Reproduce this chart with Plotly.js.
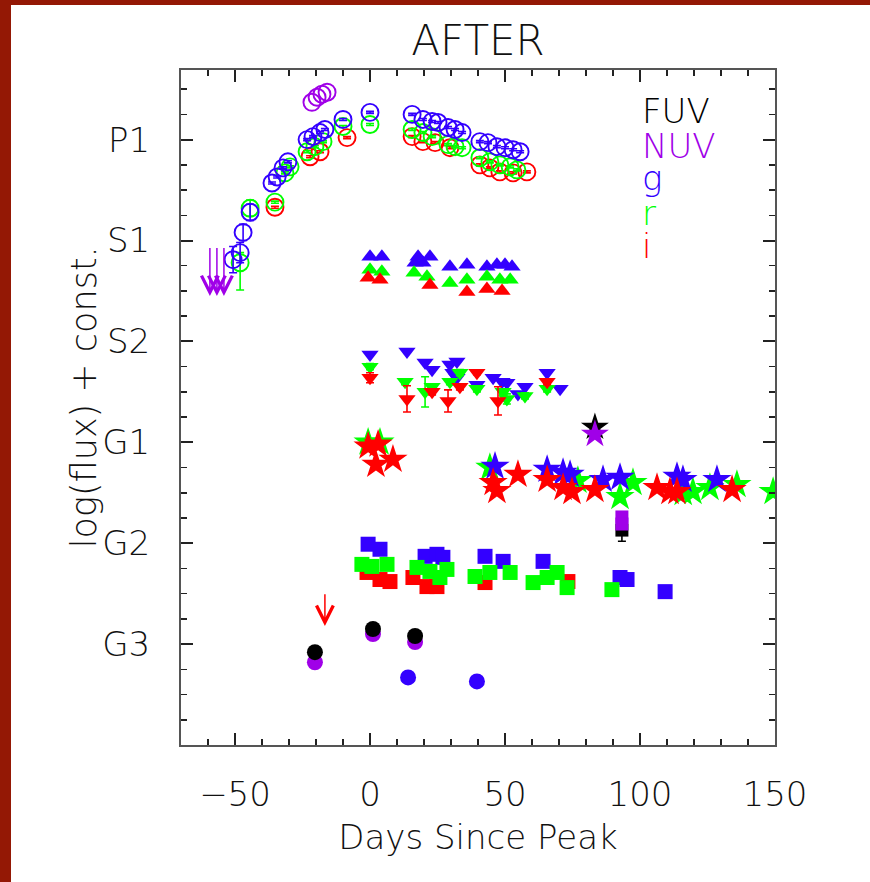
<!DOCTYPE html>
<html>
<head>
<meta charset="utf-8">
<script src="https://cdn.plot.ly/plotly-3.0.1.min.js"></script>
<style>
  html, body { margin:0; padding:0; width:870px; height:882px; overflow:hidden; background:#941805; }
  #chart { position:absolute; left:11px; top:5px; width:859px; height:877px; background:#fff; }
</style>
</head>
<body>
<div id="chart"></div>
<script>
// ---------------- data (days since peak, log flux + const.) ----------------
// tick labels for the offset groups
const groupVals = [1, 2, 3, 4, 5, 6];
const groupNames = ['G3', 'G2', 'G1', 'S2', 'S1', 'P1'];

// P1 (open circles)
const p1NuvDay = [-21.5, -19.6, -17.8, -15.9];
const p1NuvY   = [6.37, 6.42, 6.45, 6.47];
const p1gDay = [-50.7, -48.1, -47.0, -44.4, -36.3, -34.4, -32.2, -30.4, -23.3, -21.1, -18.5, -16.7, -10.0, 0.0, 15.6, 19.6, 23.0, 25.2, 28.9, 31.5, 34.1, 40.7, 43.7, 47.0, 50.0, 53.0, 55.6];
const p1gY   = [4.81, 4.88, 5.08, 5.28, 5.57, 5.63, 5.72, 5.78, 6.00, 6.03, 6.07, 6.10, 6.20, 6.27, 6.25, 6.20, 6.18, 6.17, 6.12, 6.10, 6.07, 5.98, 5.97, 5.93, 5.92, 5.90, 5.88];
const p1gErr = [0.13, 0.10, 0.08, 0.08, 0.01, 0.01, 0.01, 0.01, 0.01, 0.01, 0.01, 0.01, 0.01, 0.01, 0.01, 0.01, 0.01, 0.01, 0.01, 0.01, 0.01, 0.01, 0.01, 0.01, 0.01, 0.01, 0.01];
const p1rDay = [-48.1, -44.4, -35.2, -31.5, -29.6, -23.3, -20.4, -17.4, -10.0, 0.0, 15.6, 19.6, 23.0, 28.9, 31.5, 34.1, 40.7, 44.4, 48.1, 51.9, 54.4];
const p1rY   = [4.78, 5.32, 5.38, 5.67, 5.73, 5.88, 5.93, 5.98, 6.13, 6.15, 6.10, 6.07, 6.03, 5.95, 5.93, 5.92, 5.82, 5.78, 5.75, 5.73, 5.70];
const p1rErrUp = [0.10, 0.08, 0.01, 0.01, 0.01, 0.01, 0.01, 0.01, 0.01, 0.01, 0.01, 0.01, 0.01, 0.01, 0.01, 0.01, 0.01, 0.01, 0.01, 0.01, 0.01];
const p1rErrDn = [0.27, 0.08, 0.01, 0.01, 0.01, 0.01, 0.01, 0.01, 0.01, 0.01, 0.01, 0.01, 0.01, 0.01, 0.01, 0.01, 0.01, 0.01, 0.01, 0.01, 0.01];
const p1iDay = [-35.2, -22.2, -18.5, -8.5, 15.6, 19.6, 24.1, 29.6, 40.7, 44.4, 48.1, 53.0, 58.1];
const p1iY   = [5.33, 5.83, 5.88, 6.02, 6.03, 5.98, 5.97, 5.92, 5.75, 5.72, 5.68, 5.67, 5.68];

// P1 NUV upper limits (arrows)
const p1NuvLimDay = [-59.3, -56.7, -54.1];
const p1NuvLimTop = [4.94, 4.94, 4.94];
const p1NuvLimBot = [4.45, 4.45, 4.45];

// S1 (triangles up)
const s1gDay = [0.0, 4.4, 16.7, 17.8, 19.6, 22.2, 29.6, 35.9, 43.3, 47.0, 50.0, 52.6];
const s1gY   = [4.84, 4.84, 4.78, 4.84, 4.78, 4.84, 4.74, 4.76, 4.74, 4.76, 4.76, 4.74];
const s1rDay = [0.0, 4.4, 16.3, 21.1, 29.6, 35.9, 43.3, 48.1, 51.9];
const s1rY   = [4.71, 4.69, 4.68, 4.64, 4.58, 4.61, 4.64, 4.61, 4.61];
const s1iDay = [-0.7, 3.7, 22.2, 35.9, 43.3, 48.9];
const s1iY   = [4.63, 4.61, 4.56, 4.49, 4.52, 4.50];

// S2 (triangles down)
const s2gDay = [0.0, 13.7, 20.4, 23.0, 29.6, 32.2, 30.7, 32.2, 39.6, 45.6, 48.9, 50.7, 54.8, 57.4, 65.6, 70.4];
const s2gY   = [3.87, 3.90, 3.79, 3.72, 3.77, 3.80, 3.69, 3.64, 3.57, 3.64, 3.60, 3.59, 3.48, 3.55, 3.69, 3.53];
const s2rDay = [0.0, 13.0, 20.4, 23.0, 29.6, 33.3, 39.6, 49.3, 50.7, 57.4, 65.6];
const s2rY   = [3.75, 3.60, 3.50, 3.55, 3.60, 3.69, 3.53, 3.50, 3.43, 3.46, 3.53];
const s2rErr = [0.03, 0.03, 0.15, 0.03, 0.03, 0.03, 0.03, 0.03, 0.05, 0.03, 0.03];
const s2iDay = [0.0, 13.7, 23.0, 28.9, 33.3, 39.6, 47.4, 65.6];
const s2iY   = [3.64, 3.43, 3.50, 3.41, 3.55, 3.69, 3.41, 3.60];
const s2iErr = [0.05, 0.13, 0.03, 0.11, 0.03, 0.02, 0.14, 0.03];

// G1 (stars)
const g1FuvDay = [83.3];
const g1FuvY   = [3.15];
const g1NuvDay = [83.3];
const g1NuvY   = [3.08];
const g1gDay = [46.3, 65.6, 71.5, 74.1, 86.3, 92.6, 113.7, 115.9, 128.5];
const g1gY   = [2.76, 2.73, 2.70, 2.68, 2.63, 2.65, 2.66, 2.63, 2.63];
const g1rDay = [-0.7, 3.7, 44.4, 77.0, 92.6, 97.4, 116.0, 119.6, 125.9, 135.9, 149.3];
const g1rY   = [3.00, 3.00, 2.75, 2.62, 2.46, 2.60, 2.50, 2.51, 2.55, 2.58, 2.51];
const g1iDay = [-0.7, 3.0, 2.2, 8.5, 45.6, 47.0, 54.8, 65.6, 71.5, 74.8, 83.3, 106.3, 111.1, 113.7, 134.1];
const g1iY   = [2.96, 2.98, 2.78, 2.83, 2.60, 2.52, 2.68, 2.63, 2.55, 2.51, 2.53, 2.55, 2.51, 2.51, 2.53];

// G2 (squares)
const g2FuvDay = [93.3];
const g2FuvY   = [2.13];
const g2FuvErrDn = [0.11];
const g2NuvDay = [93.3, 93.3];
const g2NuvY   = [2.26, 2.19];
const g2gDay = [-0.7, 3.7, 20.4, 24.8, 27.0, 42.6, 49.3, 64.1, 92.6, 95.2, 109.3];
const g2gY   = [1.99, 1.94, 1.87, 1.89, 1.86, 1.87, 1.82, 1.82, 1.66, 1.64, 1.52];
const g2rDay = [-3.0, 0.7, 6.3, 17.4, 22.2, 28.5, 25.9, 38.9, 44.4, 51.9, 60.4, 65.6, 69.3, 73.0, 89.6];
const g2rY   = [1.79, 1.77, 1.79, 1.76, 1.72, 1.74, 1.66, 1.67, 1.71, 1.71, 1.61, 1.66, 1.71, 1.56, 1.54];
const g2iDay = [-1.1, 3.7, 7.4, 15.9, 21.1, 24.8, 42.6, 73.3];
const g2iY   = [1.71, 1.64, 1.62, 1.66, 1.57, 1.57, 1.61, 1.62];

// G3 (filled circles)
const g3FuvDay = [-20.4, 1.1, 16.7];
const g3FuvY   = [0.92, 1.15, 1.08];
const g3NuvDay = [-20.4, 1.1, 16.7];
const g3NuvY   = [0.82, 1.10, 1.02];
const g3gDay = [14.1, 39.6];
const g3gY   = [0.67, 0.63];
// G3 i-band upper limit (arrow)
const g3iLimDay = [-16.7];
const g3iLimTop = [1.51];
const g3iLimBot = [1.18];

// legend labels
const bandNames = ['FUV', 'NUV', 'g', 'r', 'i'];

// ---------------- styles ----------------
const COL = { FUV: '#000000', NUV: '#a000e8', g: '#3300ff', r: '#00ff00', i: '#ff0000' };
const FONT = '"DejaVu Sans", "Liberation Sans", sans-serif';

function pts(x, y, band, symbol, size, extra) {
  const filled = !symbol.endsWith('-open');
  const t = {
    type: 'scatter', mode: 'markers', x: x, y: y, hoverinfo: 'skip',
    marker: {
      symbol: symbol, size: size, color: COL[band],
      line: filled ? { width: 0 } : { width: 1.9, color: COL[band] }
    }
  };
  return Object.assign(t, extra || {});
}
function errY(arr, arrMinus, band) {
  const e = { type: 'data', array: arr, visible: true, color: COL[band], thickness: 1.6, width: 4 };
  if (arrMinus) { e.symmetric = false; e.arrayminus = arrMinus; }
  return { error_y: e };
}

const traces = [
  // P1
  pts(p1iDay, p1iY, 'i', 'circle-open', 17, errY(p1iDay.map(() => 0.01), null, 'i')),
  pts(p1rDay, p1rY, 'r', 'circle-open', 17, errY(p1rErrUp, p1rErrDn, 'r')),
  pts(p1gDay, p1gY, 'g', 'circle-open', 17, errY(p1gErr, null, 'g')),
  pts(p1NuvDay, p1NuvY, 'NUV', 'circle-open', 17),
  // S1
  pts(s1gDay, s1gY, 'g', 'triangle-up', 15),
  pts(s1rDay, s1rY, 'r', 'triangle-up', 15),
  pts(s1iDay, s1iY, 'i', 'triangle-up', 15),
  // S2
  pts(s2gDay, s2gY, 'g', 'triangle-down', 15),
  pts(s2rDay, s2rY, 'r', 'triangle-down', 15, errY(s2rErr, null, 'r')),
  pts(s2iDay, s2iY, 'i', 'triangle-down', 15, errY(s2iErr, null, 'i')),
  // G1
  pts(g1rDay, g1rY, 'r', 'star', 22),
  pts(g1gDay, g1gY, 'g', 'star', 22),
  pts(g1iDay, g1iY, 'i', 'star', 22),
  pts(g1FuvDay, g1FuvY, 'FUV', 'star', 21),
  pts(g1NuvDay, g1NuvY, 'NUV', 'star', 21),
  // G2
  pts(g2iDay, g2iY, 'i', 'square', 15),
  pts(g2gDay, g2gY, 'g', 'square', 15),
  pts(g2rDay, g2rY, 'r', 'square', 15),
  pts(g2FuvDay, g2FuvY, 'FUV', 'square', 13, errY([0], g2FuvErrDn, 'FUV')),
  pts(g2NuvDay, g2NuvY, 'NUV', 'square', 13),
  // G3
  pts(g3NuvDay, g3NuvY, 'NUV', 'circle', 16),
  pts(g3FuvDay, g3FuvY, 'FUV', 'circle', 16),
  pts(g3gDay, g3gY, 'g', 'circle', 16)
];

// upper-limit arrows
const annotations = [];
function limits(days, tops, bots, band) {
  days.forEach((d, k) => {
    annotations.push({
      x: d, y: bots[k], ax: d, ay: tops[k], xref: 'x', yref: 'y', axref: 'x', ayref: 'y',
      showarrow: true, arrowhead: 5, arrowsize: 2.2, arrowwidth: 1.5, arrowcolor: COL[band], text: ''
    });
  });
}
limits(p1NuvLimDay, p1NuvLimTop, p1NuvLimBot, 'NUV');
limits(g3iLimDay, g3iLimTop, g3iLimBot, 'i');

// text legend
const legendY = [6.287, 5.941, 5.624, 5.277, 4.950];
bandNames.forEach((b, k) => {
  annotations.push({
    x: 100, y: legendY[k], xref: 'x', yref: 'y', xanchor: 'left', yanchor: 'middle',
    text: b, showarrow: false, font: { family: FONT, size: 34, color: COL[b], weight: 200 }
  });
});

// y-axis title placed as rotated text
annotations.push({
  x: -0.162, y: 0.515, xref: 'paper', yref: 'paper', xanchor: 'center', yanchor: 'middle',
  textangle: -90, showarrow: false, text: 'log(flux) + const.',
  font: { family: FONT, size: 35, color: '#111', weight: 200 }
});

const axisCommon = {
  showline: true, linecolor: '#555', linewidth: 2, mirror: 'allticks',
  ticks: 'inside', ticklen: 12, tickwidth: 2, tickcolor: '#222',
  showgrid: false, zeroline: false,
  tickfont: { family: FONT, size: 34, color: '#111', weight: 200 }
};

const layout = {
  width: 859, height: 877,
  paper_bgcolor: '#ffffff', plot_bgcolor: '#ffffff',
  margin: { l: 170, r: 95, t: 65, b: 137 },
  showlegend: false,
  font: { family: FONT, size: 34, color: '#111', weight: 200 },
  title: {
    text: 'AFTER', x: 0.5, xref: 'paper', y: 0.96, yref: 'container', yanchor: 'middle',
    font: { family: FONT, size: 42, color: '#111', weight: 200 }
  },
  xaxis: Object.assign({}, axisCommon, {
    range: [-70, 150], tickmode: 'linear', tick0: 0, dtick: 50,
    ticklabelstandoff: 18,
    minor: { tickmode: 'linear', tick0: 0, dtick: 10, ticks: 'inside', ticklen: 6, tickwidth: 1.5, tickcolor: '#222', showgrid: false },
    title: { text: 'Days Since Peak', standoff: 12, font: { family: FONT, size: 34, color: '#111', weight: 200 } }
  }),
  yaxis: Object.assign({}, axisCommon, {
    range: [0, 6.69], tickmode: 'array', tickvals: groupVals, ticktext: groupNames,
    ticklabelstandoff: 22,
    minor: { tickmode: 'linear', tick0: 0, dtick: 0.25, ticks: 'inside', ticklen: 6, tickwidth: 1.5, tickcolor: '#222', showgrid: false }
  }),
  annotations: annotations
};

Plotly.newPlot('chart', traces, layout, { staticPlot: true, displayModeBar: false });
</script>
</body>
</html>
